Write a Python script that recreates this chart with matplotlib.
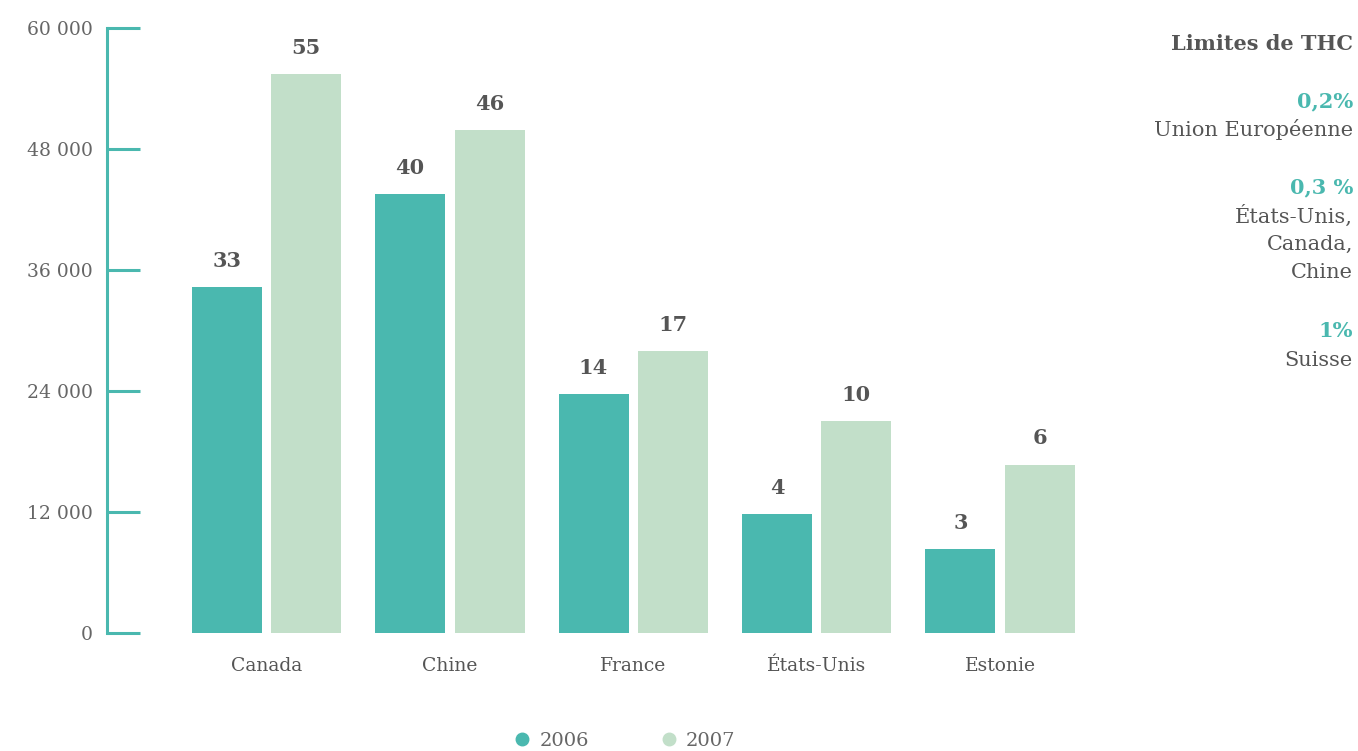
import numpy as np
import matplotlib.pyplot as plt
from matplotlib.lines import Line2D

pays = ['Canada', 'Chine', 'France', 'États-Unis', 'Estonie']
val_2006 = [34300, 43500, 23700, 11800, 8300]
val_2007 = [55400, 49900, 28000, 21000, 16700]
lab_2006 = ['33', '40', '14', '4', '3']
lab_2007 = ['55', '46', '17', '10', '6']
yticks = [0, 12000, 24000, 36000, 48000, 60000]

teal = '#4AB8AF'
vert = '#C2DFC9'
gris = '#555555'

plt.rcParams['font.family'] = ['DejaVu Serif']

fig = plt.figure(figsize=(13.58, 7.51), dpi=100)
ax = fig.add_axes([107 / 1358, 118 / 751, (1100 - 107) / 1358, (633 - 28) / 751])

x = np.arange(len(pays))
w = 0.382
off = 0.2167
b1 = ax.bar(x - off, val_2006, w, color=teal)
b2 = ax.bar(x + off, val_2007, w, color=vert)

for rects, labs in ((b1, lab_2006), (b2, lab_2007)):
    for r, t in zip(rects, labs):
        ax.text(r.get_x() + r.get_width() / 2, r.get_height() + 1600, t,
                ha='center', va='bottom', fontsize=15, fontweight='bold', color=gris)

ax.set_xlim(-0.8697, 4.5448)
ax.set_ylim(0, 60000)
ax.set_yticks(yticks)
ax.set_yticklabels(['{:,}'.format(v).replace(',', ' ') for v in yticks])
ax.set_xticks(x)
ax.set_xticklabels(pays)

for s in ['top', 'right', 'bottom']:
    ax.spines[s].set_visible(False)
ax.spines['left'].set_color(teal)
ax.spines['left'].set_linewidth(2.2)
ax.tick_params(axis='y', direction='in', length=24, width=2.2, color=teal,
               labelsize=13.5, labelcolor='#666666', pad=10)
ax.tick_params(axis='x', length=0, labelsize=13.5, labelcolor=gris, pad=17)

handles = [Line2D([], [], marker='o', ls='', color=teal, markersize=9),
           Line2D([], [], marker='o', ls='', color=vert, markersize=9)]
fig.legend(handles, ['2006', '2007'], loc='center', bbox_to_anchor=(622 / 1358, 1 - 741 / 751),
           ncol=2, frameon=False, fontsize=14, labelcolor='#666666',
           handletextpad=0.2, handlelength=1.4, columnspacing=3.4)

rx = 1353 / 1358
lignes = [('Limites de THC', 44, 'bold', gris),
          ('0,2%', 101, 'bold', teal),
          ('Union Européenne', 130, 'normal', gris),
          ('0,3 %', 187, 'bold', teal),
          ('États-Unis,', 216, 'normal', gris),
          ('Canada,', 244, 'normal', gris),
          ('Chine', 273, 'normal', gris),
          ('1%', 331, 'bold', teal),
          ('Suisse', 360, 'normal', gris)]
for txt, py, fw, c in lignes:
    fig.text(rx, 1 - py / 751, txt, ha='right', va='center', fontsize=15,
             fontweight=fw, color=c)

fig.savefig('out.png', dpi=100)
